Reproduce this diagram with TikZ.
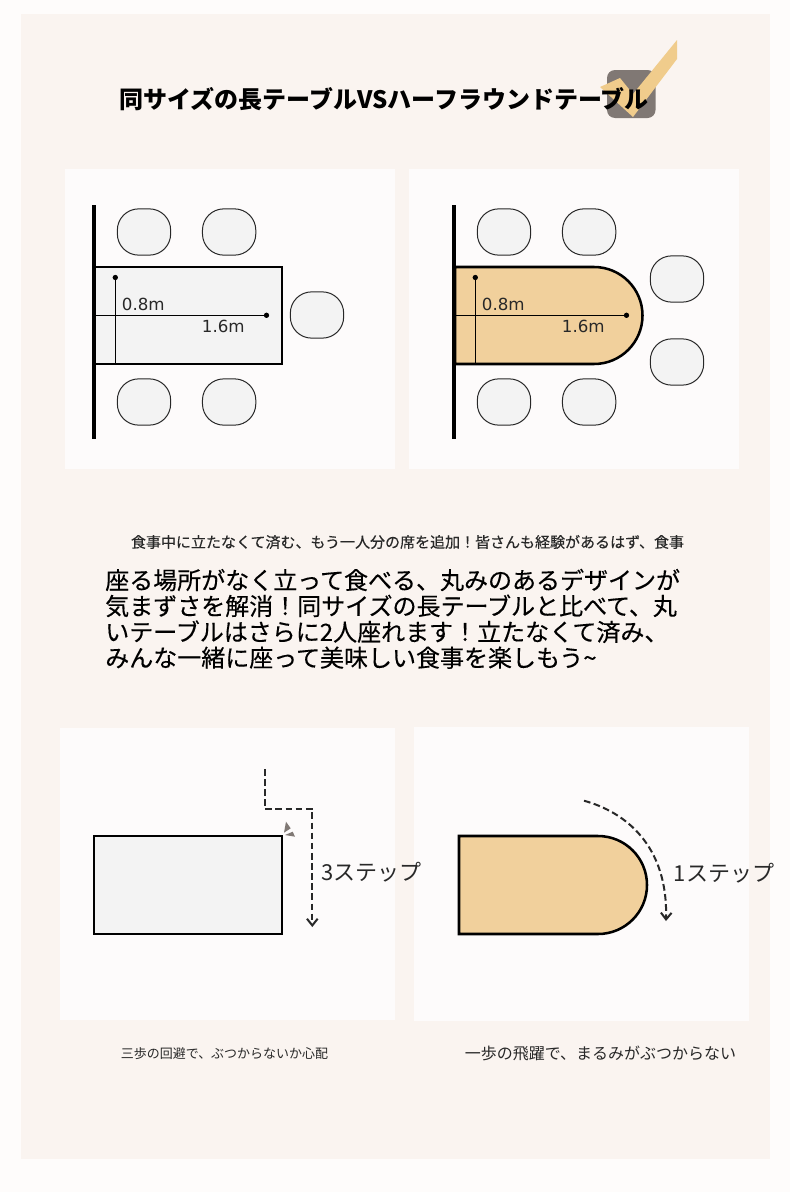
\documentclass[tikz,border=0pt]{standalone}
\usepackage{fontspec}
\usetikzlibrary{arrows.meta,positioning}
\setmainfont{DejaVu Sans}
\newfontfamily\jpfont{Noto Sans CJK JP}
\newfontfamily\jpmedium[FakeBold=0.25]{Noto Sans CJK JP}
\definecolor{cardbg}{RGB}{250,244,240}
\definecolor{pagebg}{RGB}{254,252,251}
\definecolor{panelbg}{RGB}{253,251,251}
\definecolor{chairfill}{RGB}{243,243,243}
\definecolor{tablegold}{RGB}{241,208,156}
\definecolor{checkgold}{RGB}{240,204,140}
\definecolor{checkbox}{RGB}{128,120,116}
\definecolor{inkdark}{RGB}{40,40,40}

\begin{document}
\begin{tikzpicture}[
    x=0.75pt, y=-0.75pt,
    panel/.style={draw=none, fill=panelbg},
    chair/.style={rectangle, draw=inkdark, fill=chairfill, line width=0.75pt, rounded corners=16pt, minimum width=40pt, minimum height=34.7pt},
    wall/.style={line width=3pt, black},
    tableline/.style={line width=1.9pt, black},
    measure/.style={line width=0.8pt, black},
    pin/.style={circle, fill=black, inner sep=0pt, minimum size=4pt},
    size/.style={font=\fontsize{12.5pt}{14pt}\selectfont, text=inkdark, inner sep=0pt},
    steplabel/.style={font=\jpfont\fontsize{16.5pt}{18pt}\selectfont, text=inkdark, inner sep=0pt},
    route/.style={-{Straight Barb[length=5pt,width=8pt]}, dash pattern=on 5pt off 2.6pt, line width=1.5pt, inkdark}
]
\useasboundingbox (0,0) rectangle (790,1192);
\fill[pagebg] (0,0) rectangle (790,1192);
\fill[cardbg] (21,14) rectangle (770,1159);

% Panels
\fill[panel] (65,169) rectangle (395,469);
\fill[panel] (409,169) rectangle (739,469);
\fill[panel] (60,728) rectangle (395,1020);
\fill[panel] (414,727) rectangle (749,1021);

% Title
\fill[checkbox, rounded corners=6pt] (607,70) rectangle (655.5,118);
\fill[checkgold] (600,87) -- (620,78) -- (633,94) -- (677,40) -- (677,59) -- (633,117) -- cycle;
\node[font=\jpfont\bfseries\fontsize{18pt}{20pt}\selectfont, text=black, inner sep=0pt] (title) at (384,99) {同サイズの長テーブルVSハーフラウンドテーブル};

% Long table
\draw[wall] (94,205) -- (94,439);
\draw[tableline, fill=chairfill] (95,267) rectangle (282,364);
\node[chair] (chairA) at (144,232) {};
\node[chair, right=23.1pt of chairA] (chairB) {};
\node[chair] (chairC) at (144,402) {};
\node[chair, right=23.1pt of chairC] (chairD) {};
\node[chair] (chairE) at (317,315) {};
\node[pin] (longV) at (115.3,277.5) {};
\node[pin] (longH) at (266.5,315.3) {};
\coordinate (longVend) at (115.3,364);
\coordinate (longHend) at (95,315.3);
\draw[measure] (longV) -- (longVend);
\draw[measure] (longHend) -- (longH);
\node[size] (longVtext) at (143.3,304) {0.8m};
\node[size] (longHtext) at (223.3,326.7) {1.6m};

% Half round table
\draw[wall] (454,205) -- (454,439);
\draw[tableline, fill=tablegold] (455,267) -- (594,267) arc (-90:90:48.5) -- (455,364) -- cycle;
\node[chair] (chairF) at (504,232) {};
\node[chair, right=23.1pt of chairF] (chairG) {};
\node[chair] (chairH) at (504,402) {};
\node[chair, right=23.1pt of chairH] (chairI) {};
\node[chair] (chairJ) at (677,279) {};
\node[chair] (chairK) at (677,362) {};
\node[pin] (roundV) at (475.3,277.5) {};
\node[pin] (roundH) at (626.5,315.3) {};
\coordinate (roundVend) at (475.3,364);
\coordinate (roundHend) at (455,315.3);
\draw[measure] (roundV) -- (roundVend);
\draw[measure] (roundHend) -- (roundH);
\node[size] (roundVtext) at (503.3,304) {0.8m};
\node[size] (roundHtext) at (583.3,326.7) {1.6m};

% Text
\node[font=\jpmedium\fontsize{11.25pt}{13pt}\selectfont, text=inkdark, inner sep=0pt] (intro) at (407.5,542) {食事中に立たなくて済む、もう一人分の席を追加！皆さんも経験があるはず、食事};
\node[font=\jpmedium\fontsize{18pt}{19.4pt}\selectfont, text=black, inner sep=0pt, anchor=north west, align=left] (body) at (105,568.5) {座る場所がなく立って食べる、丸みのあるデザインが\\気まずさを解消！同サイズの長テーブルと比べて、丸\\いテーブルはさらに2人座れます！立たなくて済み、\\みんな一緒に座って美味しい食事を楽しもう\textasciitilde};

% Lower left
\draw[tableline, fill=chairfill] (94,836) rectangle (282,934);
\coordinate (stepA) at (264.5,769);
\coordinate (stepB) at (264.5,808.7);
\coordinate (stepC) at (312.3,808.7);
\coordinate (stepD) at (312.3,927);
\draw[route] (stepA) -- (stepB) -- (stepC) -- (stepD);
\fill[checkbox] (286,821.7) -- (290.7,828.3) -- (284,832.7) -- cycle;
\fill[checkbox] (285,835) -- (292.7,831.7) -- (295,836.7) -- cycle;
\node[steplabel] (stepsThree) at (371.5,872) {3ステップ};
\node[font=\jpfont\fontsize{9.75pt}{11pt}\selectfont, text=inkdark, inner sep=0pt] (capLeft) at (224.5,1053.5) {三歩の回避で、ぶつからないか心配};

% Lower right
\draw[tableline, fill=tablegold] (459,836) -- (598,836) arc (-90:90:49) -- (459,934) -- cycle;
\coordinate (curveA) at (584,800.7);
\coordinate (curveB) at (666,921);
\draw[route] (curveA) .. controls (625,812) and (668,845) .. (curveB);
\node[steplabel] (stepsOne) at (724,873) {1ステップ};
\node[font=\jpfont\fontsize{12pt}{14pt}\selectfont, text=inkdark, inner sep=0pt] (capRight) at (600.5,1053.5) {一歩の飛躍で、まるみがぶつからない};

\end{tikzpicture}
\end{document}
